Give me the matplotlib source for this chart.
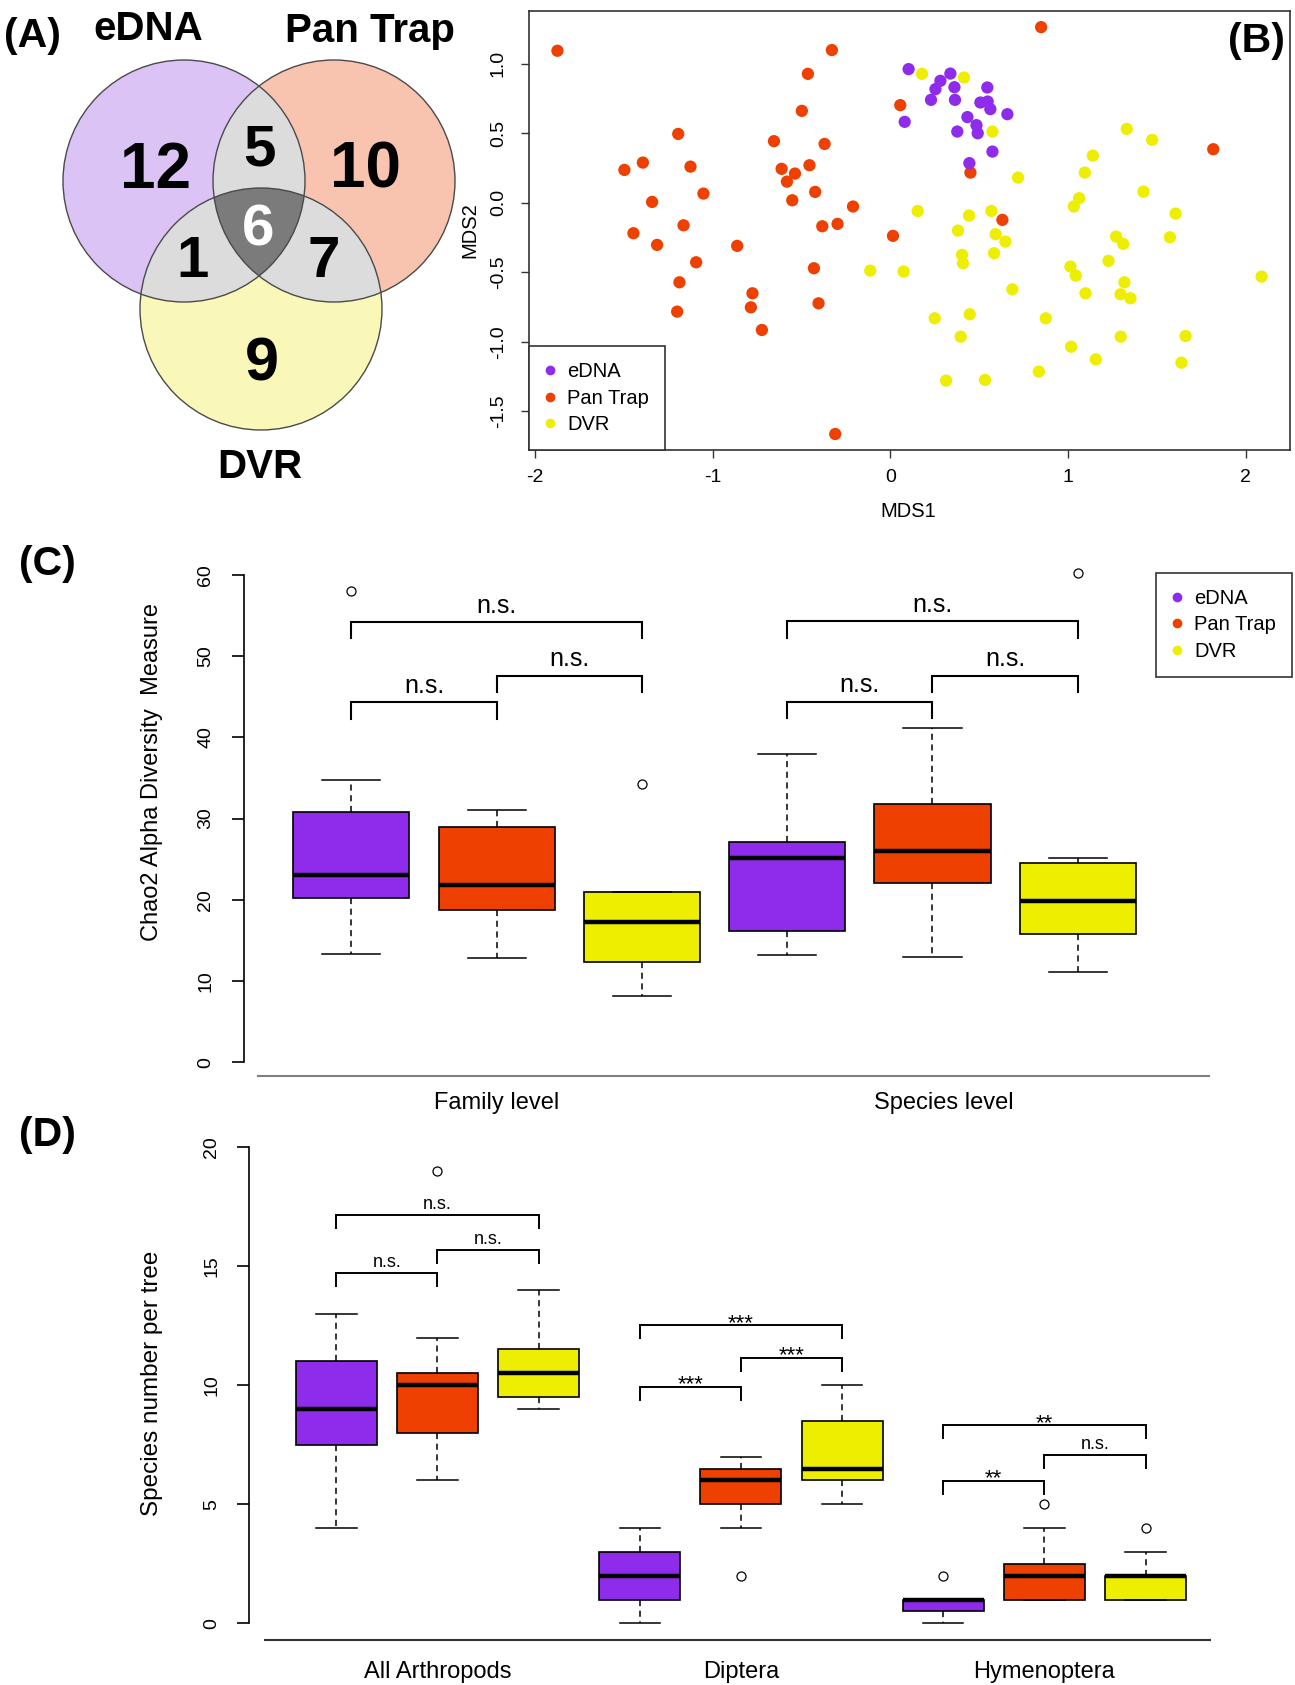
import numpy as np
import matplotlib
matplotlib.use('Agg')
import matplotlib.pyplot as plt
from matplotlib.patches import Circle, Polygon
from matplotlib.lines import Line2D
from matplotlib.ticker import FormatStrFormatter

plt.rcParams['font.family'] = ['Liberation Sans', 'DejaVu Sans']
plt.rcParams['axes.unicode_minus'] = False

W, H = 1295, 1685

groups = ['eDNA', 'Pan Trap', 'DVR']
colors = ['#8f2bea', '#ee4000', '#eeee00']

# (A) species shared between methods
only_counts = [12, 10, 9]      # eDNA, Pan Trap, DVR only
pair_counts = [5, 1, 7]        # eDNA&Pan Trap, eDNA&DVR, Pan Trap&DVR
triple_count = 6

# (B) NMDS scores (MDS1, MDS2)
edna_mds = [(0.103, 0.962), (0.081, 0.583), (0.338, 0.930), (0.282, 0.878), (0.254, 0.818),
            (0.229, 0.741), (0.361, 0.832), (0.364, 0.741), (0.546, 0.830), (0.507, 0.722),
            (0.548, 0.729), (0.563, 0.674), (0.659, 0.638), (0.434, 0.617), (0.485, 0.559),
            (0.492, 0.501), (0.377, 0.513), (0.575, 0.369), (0.445, 0.286)]
pan_mds = [(-1.874, 1.094), (-1.194, 0.496), (-1.497, 0.237), (-1.393, 0.290), (-1.125, 0.261),
           (-1.341, 0.007), (-1.052, 0.067), (-1.446, -0.218), (-1.164, -0.161), (-1.313, -0.302),
           (-0.862, -0.309), (-0.655, 0.444), (-0.612, 0.245), (-0.582, 0.153), (-0.537, 0.211),
           (-0.552, 0.019), (-0.498, 0.662), (-0.464, 0.928), (-0.329, 1.099), (-0.455, 0.271),
           (-0.370, 0.424), (-0.423, 0.079), (-0.383, -0.168), (-0.297, -0.151), (-0.210, -0.026),
           (0.015, -0.237), (0.056, 0.703), (-1.093, -0.427), (-1.187, -0.571), (-1.200, -0.782),
           (-0.776, -0.650), (-0.785, -0.751), (-0.723, -0.914), (-0.430, -0.470), (-0.404, -0.722),
           (-0.310, -1.662), (0.849, 1.264), (1.818, 0.386), (0.451, 0.218), (0.631, -0.122)]
dvr_mds = [(0.178, 0.928), (0.415, 0.902), (0.575, 0.513), (1.331, 0.532), (1.474, 0.453),
           (1.140, 0.340), (1.095, 0.218), (0.719, 0.182), (1.425, 0.081), (1.063, 0.034),
           (1.033, -0.026), (1.606, -0.077), (0.154, -0.058), (0.443, -0.091), (0.569, -0.058),
           (0.381, -0.199), (0.593, -0.225), (0.648, -0.278), (1.271, -0.242), (1.311, -0.295),
           (1.574, -0.247), (0.404, -0.374), (0.409, -0.434), (0.584, -0.362), (0.075, -0.494),
           (-0.113, -0.487), (0.687, -0.621), (1.014, -0.458), (1.044, -0.523), (1.099, -0.650),
           (1.228, -0.417), (1.318, -0.571), (1.296, -0.657), (1.352, -0.686), (2.090, -0.530),
           (0.250, -0.830), (0.447, -0.801), (0.875, -0.830), (0.396, -0.962), (1.297, -0.962),
           (1.662, -0.957), (1.018, -1.034), (1.157, -1.125), (1.639, -1.149), (0.836, -1.213),
           (0.314, -1.278), (0.533, -1.273)]

# (C) Chao2 boxes: family eDNA/Pan/DVR, species eDNA/Pan/DVR
c_levels = ['Family level', 'Species level']
c_lo = [13.3, 12.8, 8.1, 13.2, 13.0, 11.1]
c_q1 = [20.2, 18.7, 12.3, 16.1, 22.1, 15.8]
c_med = [23.0, 21.8, 17.2, 25.2, 26.0, 19.8]
c_q3 = [30.8, 29.0, 21.0, 27.1, 31.8, 24.5]
c_hi = [34.7, 31.0, 21.0, 38.0, 41.1, 25.1]
c_fliers = [[58.0], [], [34.3], [], [], [60.3]]
c_sig = [['n.s.', 'n.s.', 'n.s.'], ['n.s.', 'n.s.', 'n.s.']]
c_sig_y = [[44.3, 47.6, 54.2], [44.4, 47.6, 54.3]]

# (D) species per tree
d_taxa = ['All Arthropods', 'Diptera', 'Hymenoptera']
d_lo = [4, 6, 9, 0, 4, 5, 0, 1, 1]
d_q1 = [7.5, 8, 9.5, 1, 5, 6, 0.5, 1, 1]
d_med = [9, 10, 10.5, 2, 6, 6.5, 1, 2, 2]
d_q3 = [11, 10.5, 11.5, 3, 6.5, 8.5, 1, 2.5, 2]
d_hi = [13, 12, 14, 4, 7, 10, 1, 4, 3]
d_fliers = [[], [19], [], [], [2], [], [2], [5], [4]]
d_sig = [['n.s.', 'n.s.', 'n.s.'], ['***', '***', '***'], ['**', 'n.s.', '**']]
d_sig_y = [[14.7, 15.66, 17.15], [9.94, 11.15, 12.51], [5.99, 7.07, 8.32]]

fig = plt.figure(figsize=(W / 100, H / 100), dpi=100)


def px_axes(x0, y0, x1, y1):
    return fig.add_axes([x0 / W, 1 - y1 / H, (x1 - x0) / W, (y1 - y0) / H])


# ---------------- (A) Venn ----------------
ax = px_axes(0, 0, 480, 500)
ax.set_xlim(0, 480)
ax.set_ylim(500, 0)
ax.axis('off')
centers = [(184, 181), (334, 181), (261, 309)]
R = 121
venn_fill = ['#dcc3f6', '#f8c4b0', '#f9f8b9']
for (cx, cy), c in zip(centers, venn_fill):
    ax.add_patch(Circle((cx, cy), R, facecolor=c, edgecolor='none'))


def lens(idx):
    t = np.linspace(0, 2 * np.pi, 1440, endpoint=False)
    pts = []
    for i in idx:
        cx, cy = centers[i]
        p = np.column_stack([cx + R * np.cos(t), cy + R * np.sin(t)])
        keep = np.ones(len(p), bool)
        for j in idx:
            if j != i:
                keep &= np.hypot(p[:, 0] - centers[j][0], p[:, 1] - centers[j][1]) <= R
        pts.append(p[keep])
    pts = np.vstack(pts)
    m = pts.mean(axis=0)
    return pts[np.argsort(np.arctan2(pts[:, 1] - m[1], pts[:, 0] - m[0]))]


for pair in [(0, 1), (0, 2), (1, 2)]:
    ax.add_patch(Polygon(lens(pair), facecolor='#dcdcdc', edgecolor='none'))
ax.add_patch(Polygon(lens((0, 1, 2)), facecolor='#7b7b7b', edgecolor='none'))
for cx, cy in centers:
    ax.add_patch(Circle((cx, cy), R, facecolor='none', edgecolor='#4a4a4a', lw=1.0))

num_kw = dict(ha='center', va='center', weight='bold')
for n, (x, y), fs in zip(only_counts, [(155, 171), (366, 171), (262, 365)], [46, 46, 44]):
    ax.text(x, y, str(n), fontsize=fs, **num_kw)
for n, (x, y) in zip(pair_counts, [(259, 150), (193, 262), (324, 262)]):
    ax.text(x, y, str(n), fontsize=42, **num_kw)
ax.text(258, 230, str(triple_count), fontsize=42, color='white', **num_kw)
ax.text(32, 36, '(A)', fontsize=29.5, **num_kw)
ax.text(148, 29, 'eDNA', fontsize=29, **num_kw)
ax.text(370, 31, 'Pan Trap', fontsize=29, **num_kw)
ax.text(260, 467, 'DVR', fontsize=29, **num_kw)

# ---------------- (B) NMDS ----------------
ax = px_axes(529, 11, 1290, 450)
for pts, c in [(pan_mds, colors[1]), (dvr_mds, colors[2]), (edna_mds, colors[0])]:
    a = np.array(pts)
    ax.scatter(a[:, 0], a[:, 1], s=78, color=c, edgecolors='none')
ax.set_xlim(-2.034, 2.25)
ax.set_ylim(-1.777, 1.38)
ax.set_xticks([-2, -1, 0, 1, 2])
ax.set_yticks([-1.5, -1.0, -0.5, 0.0, 0.5, 1.0])
ax.yaxis.set_major_formatter(FormatStrFormatter('%.1f'))
ax.tick_params(labelsize=14, length=6, width=1, color='#333333')
ax.tick_params(axis='y', labelrotation=90, pad=10)
for lab in ax.get_yticklabels():
    lab.set_va('center')
ax.tick_params(axis='x', pad=8)
for s in ax.spines.values():
    s.set_color('#333333')
    s.set_linewidth(1.2)
handles = [Line2D([], [], marker='o', ls='none', markersize=7, markerfacecolor=c,
                  markeredgecolor='none') for c in colors]
leg_kw = dict(fontsize=14.5, handlelength=0.5, handletextpad=0.6, labelspacing=0.36,
              borderpad=0.8, fancybox=False, framealpha=1, edgecolor='#333333')
leg = ax.legend(handles, groups, loc='lower left', borderaxespad=0, **leg_kw)
leg.get_frame().set_linewidth(1.2)
fig.text(908 / W, 1 - 511 / H, 'MDS1', fontsize=14.5, ha='center', va='center')
fig.text(470 / W, 1 - 230 / H, 'MDS2', fontsize=14.5, ha='center', va='center', rotation=90)
fig.text(1256 / W, 1 - 41 / H, '(B)', fontsize=29.5, weight='bold', ha='center', va='center')


# ---------------- box plot helpers ----------------
def draw_boxes(ax, lo, q1, med, q3, hi, fliers):
    stats = [dict(whislo=a, q1=b, med=c, q3=d, whishi=e, fliers=f)
             for a, b, c, d, e, f in zip(lo, q1, med, q3, hi, fliers)]
    pos = np.arange(1, len(stats) + 1)
    bp = ax.bxp(stats, positions=pos, widths=0.8, capwidths=0.4, patch_artist=True,
                boxprops=dict(linewidth=1.2, edgecolor='black'),
                medianprops=dict(color='black', linewidth=3.2, solid_capstyle='butt'),
                whiskerprops=dict(color='black', linewidth=1.1, linestyle=(0, (4, 3))),
                capprops=dict(color='black', linewidth=1.1),
                flierprops=dict(marker='o', markerfacecolor='none', markeredgecolor='black',
                                markersize=6.5, markeredgewidth=0.9))
    for i, patch in enumerate(bp['boxes']):
        patch.set_facecolor(colors[i % 3])
    for art in ax.get_children():
        art.set_clip_on(False)


def draw_sig(ax, labels, heights, drop, toff, fs, star_fs, star_off, lw):
    for g, (labs, ys) in enumerate(zip(labels, heights)):
        base = 3 * g + 1
        for (i, j), lab, y in zip([(0, 1), (1, 2), (0, 2)], labs, ys):
            x1, x2 = base + i, base + j
            ax.plot([x1, x1, x2, x2], [y - drop, y, y, y - drop], color='black', lw=lw,
                    clip_on=False, solid_joinstyle='miter')
            if lab.startswith('*'):
                ax.text((x1 + x2) / 2, y + star_off, lab, ha='center', va='baseline',
                        fontsize=star_fs)
            else:
                ax.text((x1 + x2) / 2, y + toff, lab, ha='center', va='center', fontsize=fs)


def style_axes(ax, ymax, step, outward, bottom_color):
    ax.spines['top'].set_visible(False)
    ax.spines['right'].set_visible(False)
    ax.spines['left'].set_position(('outward', outward))
    ax.spines['left'].set_bounds(0, ymax)
    ax.spines['left'].set_linewidth(1.2)
    ax.spines['bottom'].set_color(bottom_color)
    ax.spines['bottom'].set_linewidth(1.5)
    ax.set_yticks(np.arange(0, ymax + 1, step))
    ax.tick_params(axis='y', labelsize=14, length=9, width=1.2, labelrotation=90, pad=12)
    for lab in ax.get_yticklabels():
        lab.set_va('center')


# ---------------- (C) Chao2 ----------------
ax = px_axes(257.8, 560, 1208.5, 1075.7)
draw_boxes(ax, c_lo, c_q1, c_med, c_q3, c_hi, c_fliers)
ax.set_xlim(0.356, 6.90)
ax.set_ylim(-1.675, 61.85)
style_axes(ax, 60, 10, 10.2, '#808080')
ax.set_xticks([2, 5.08])
ax.set_xticklabels(c_levels, fontsize=17)
ax.tick_params(axis='x', length=0, pad=12)
draw_sig(ax, c_sig, c_sig_y, 2.0, 2.0, 18, 18, 0.5, 1.5)
fig.text(152 / W, 1 - 772 / H, 'Chao2 Alpha Diversity  Measure', fontsize=17,
         rotation=90, ha='center', va='center')
fig.legend(handles, groups, loc='upper left', bbox_to_anchor=(1156 / W, 1 - 573 / H),
           borderaxespad=0, **leg_kw).get_frame().set_linewidth(1.2)
fig.text(47 / W, 1 - 564 / H, '(C)', fontsize=29.5, weight='bold', ha='center', va='center')

# ---------------- (D) species per tree ----------------
ax = px_axes(265.4, 1130, 1210.4, 1640)
draw_boxes(ax, d_lo, d_q1, d_med, d_q3, d_hi, d_fliers)
ax.set_xlim(0.299, 9.641)
ax.set_ylim(-0.697, 20.71)
style_axes(ax, 20, 5, 11.5, '#333333')
ax.set_xticks([2, 5, 8])
ax.set_xticklabels(d_taxa, fontsize=17)
ax.tick_params(axis='x', length=0, pad=15)
draw_sig(ax, d_sig, d_sig_y, 0.55, 0.45, 13, 16, -0.16, 1.4)
fig.text(152 / W, 1 - 1383 / H, 'Species number per tree', fontsize=17.5,
         rotation=90, ha='center', va='center')
fig.text(47 / W, 1 - 1135 / H, '(D)', fontsize=29.5, weight='bold', ha='center', va='center')

fig.savefig('out.png', dpi=100)
